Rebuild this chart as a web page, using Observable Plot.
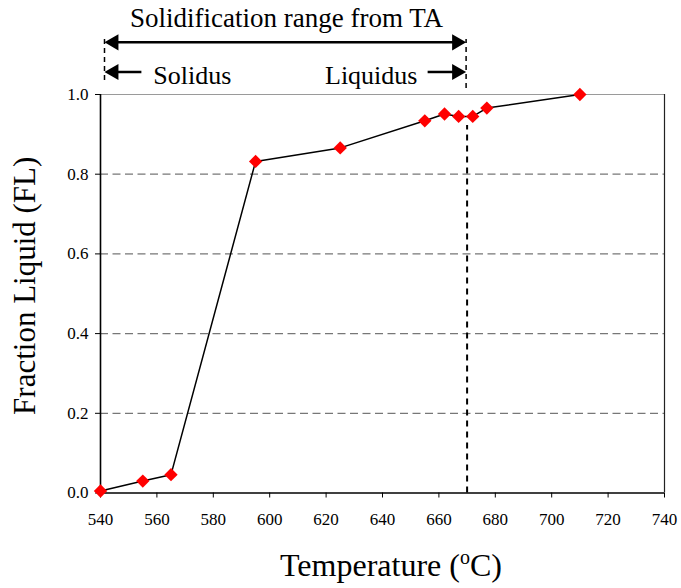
<!DOCTYPE html>
<html>
<head>
<meta charset="utf-8">
<script src="https://cdn.jsdelivr.net/npm/d3@7"></script>
<script src="https://cdn.jsdelivr.net/npm/@observablehq/plot@0.6"></script>
<style>
  html, body { margin: 0; padding: 0; background: #fff; }
  #chart svg, #chart svg text { font-family: "Liberation Serif", "Times New Roman", serif !important; }
</style>
</head>
<body>
<div id="chart"></div>
<script>
// ---- data ----
const temperatures = [540, 555, 565, 595, 625, 655, 662, 667, 672, 677, 710];
const fractionLiquid = [0.005, 0.030, 0.046, 0.832, 0.866, 0.934, 0.951, 0.945, 0.945, 0.966, 1.0];
const xTicks = [540, 560, 580, 600, 620, 640, 660, 680, 700, 720, 740];
const yTicks = [0.0, 0.2, 0.4, 0.6, 0.8, 1.0];
const solidusT = 540;
const liquidusT = 670;
const titleText = "Solidification range from TA";
const solidusText = "Solidus";
const liquidusText = "Liquidus";
const xLabel = "Temperature (oC)";
const yLabel = "Fraction Liquid (FL)";

// annotation levels (in y-data units, above the frame)
const titleY = 1.19, rangeArrowY = 1.131, boundArrowY = 1.0565, boundTextY = 1.048;
const dashTopY = 1.138, leftDashBottomY = 1.035, rightDashBottomY = 1.015, innerDashTopY = 0.922;

const data = temperatures.map((t, i) => ({t, fl: fractionLiquid[i]}));
const font = "'Liberation Serif', 'Times New Roman', serif";

const plot = Plot.plot({
  width: 681,
  height: 588,
  marginLeft: 100,
  marginRight: 17,
  marginTop: 94,
  marginBottom: 95.5,
  style: {fontFamily: font, fontSize: "17px", color: "#000", background: "#fff"},
  x: {domain: [540, 740], ticks: xTicks, tickSize: 5, tickPadding: 15, label: null, tickFormat: d3.format("d")},
  y: {domain: [0, 1], ticks: yTicks, tickSize: 5, tickPadding: 7, label: null, tickFormat: d3.format(".1f")},
  marks: [
    Plot.ruleY(yTicks.filter(d => d > 0 && d < 1), {stroke: "#777", strokeWidth: 1.2, strokeDasharray: "8,4.5"}),
    Plot.ruleY([1], {stroke: "#9a9a9a", strokeWidth: 1.2}),
    Plot.ruleX([740], {stroke: "#222", strokeWidth: 1.2}),
    Plot.ruleX([{x: liquidusT, y1: 0, y2: innerDashTopY}], {x: "x", y1: "y1", y2: "y2", stroke: "#000", strokeWidth: 2, strokeDasharray: "6,5"}),
    Plot.ruleX([540], {stroke: "#000", strokeWidth: 1.6}),
    Plot.ruleY([0], {stroke: "#000", strokeWidth: 1.6}),
    Plot.line(data, {x: "t", y: "fl", stroke: "#000", strokeWidth: 1.5}),
    Plot.dot(data, {x: "t", y: "fl", symbol: "diamond2", r: 6, fill: "#ff0000", stroke: "none"}),

    // annotations above the frame
    Plot.text([{label: titleText, x: 606, y: titleY}], {x: "x", y: "y", text: "label", fontSize: 27, fontFamily: font, fill: "#000"}),
    Plot.ruleX([{x: solidusT, y1: leftDashBottomY, y2: dashTopY}], {x: "x", y1: "y1", y2: "y2", dx: 4, stroke: "#000", strokeWidth: 1.5, strokeDasharray: "5,4"}),
    Plot.ruleX([{x: liquidusT, y1: rightDashBottomY, y2: dashTopY}], {x: "x", y1: "y1", y2: "y2", dx: -1, stroke: "#000", strokeWidth: 1.5, strokeDasharray: "5,4"}),
    Plot.link([{x1: solidusT + 3, x2: liquidusT - 3, y: rangeArrowY}], {x1: "x1", x2: "x2", y1: "y", y2: "y", stroke: "#000", strokeWidth: 2.5}),
    Plot.link([{x1: solidusT + 3, x2: 554.5, y: boundArrowY}], {x1: "x1", x2: "x2", y1: "y", y2: "y", stroke: "#000", strokeWidth: 2.5}),
    Plot.link([{x1: 656, x2: liquidusT - 3, y: boundArrowY}], {x1: "x1", x2: "x2", y1: "y", y2: "y", stroke: "#000", strokeWidth: 2.5}),
    Plot.dot([{x: solidusT, y: rangeArrowY}, {x: solidusT, y: boundArrowY}], {x: "x", y: "y", symbol: "triangle", r: 6, rotate: -90, dx: 13.3, fill: "#000", stroke: "none"}),
    Plot.dot([{x: liquidusT, y: rangeArrowY}, {x: liquidusT, y: boundArrowY}], {x: "x", y: "y", symbol: "triangle", r: 6, rotate: 90, dx: -10.3, fill: "#000", stroke: "none"}),
    Plot.text([{label: solidusText, x: 558.7, y: boundTextY}], {x: "x", y: "y", text: "label", textAnchor: "start", fontSize: 26, fontFamily: font, fill: "#000"}),
    Plot.text([{label: liquidusText, x: 652.4, y: boundTextY}], {x: "x", y: "y", text: "label", textAnchor: "end", fontSize: 26, fontFamily: font, fill: "#000"}),

    // axis titles
    Plot.text([{label: yLabel, x: 540, y: 0.52}], {x: "x", y: "y", text: "label", rotate: -90, dx: -75, fontSize: 31, fontFamily: font, fill: "#000"}),
    Plot.text([{label: xLabel, x: 643, y: -0.182}], {x: "x", y: "y", text: "label", fontSize: 32, fontFamily: font, fill: "#000"})
  ]
});

// superscript "o" in the x-axis title
const ns = "http://www.w3.org/2000/svg";
plot.querySelectorAll("text").forEach(t => {
  if (t.textContent === xLabel) {
    while (t.firstChild) t.removeChild(t.firstChild);
    const a = document.createElementNS(ns, "tspan"); a.textContent = "Temperature (";
    const b = document.createElementNS(ns, "tspan"); b.textContent = "o"; b.setAttribute("font-size", "20"); b.setAttribute("dy", "-12");
    const c = document.createElementNS(ns, "tspan"); c.textContent = "C)"; c.setAttribute("dy", "12");
    t.appendChild(a); t.appendChild(b); t.appendChild(c);
  }
});

document.getElementById("chart").appendChild(plot);
</script>
</body>
</html>
